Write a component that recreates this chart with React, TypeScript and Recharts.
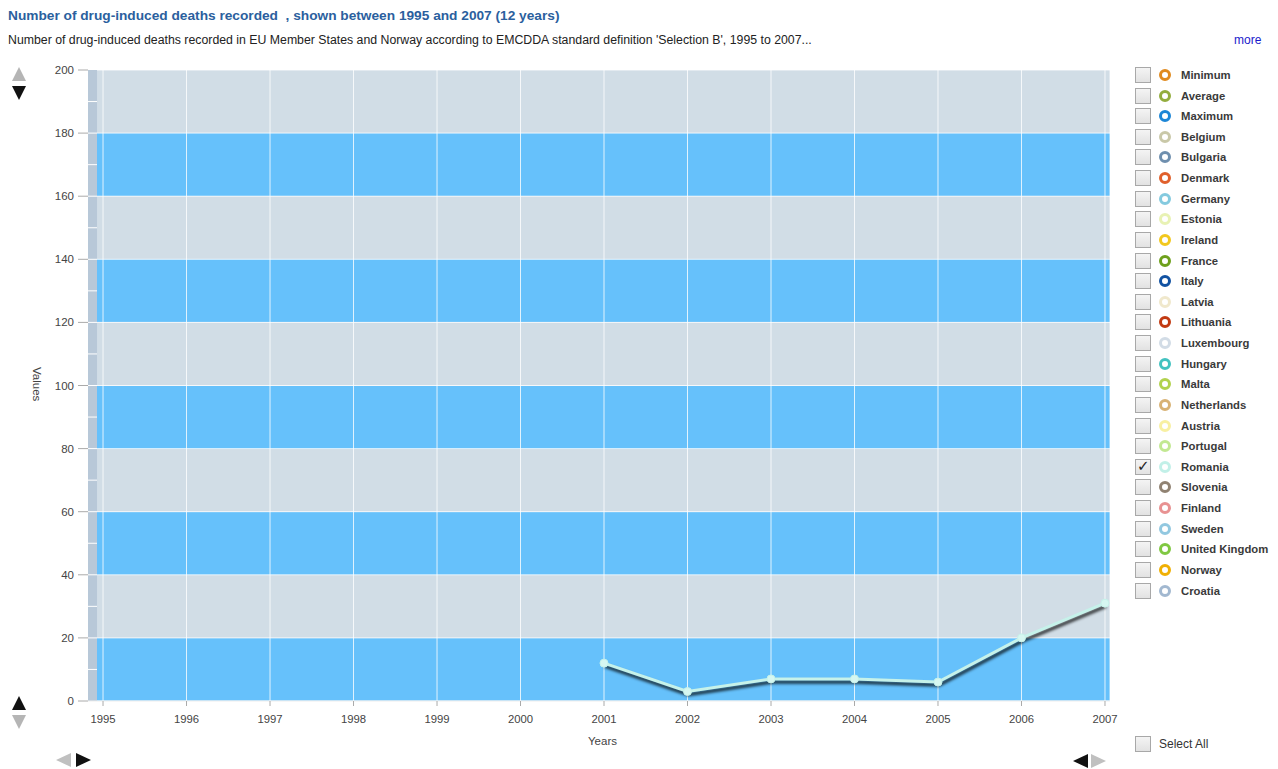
import React from 'react';
import {
  LineChart,
  Line,
  XAxis,
  YAxis,
  CartesianGrid,
  ReferenceArea,
  ReferenceLine,
} from 'recharts';

// chart values
const years = [1995, 1996, 1997, 1998, 1999, 2000, 2001, 2002, 2003, 2004, 2005, 2006, 2007];
const romania: (number | null)[] = [null, null, null, null, null, null, 12, 3, 7, 7, 6, 20, 31];
const yTicks = [0, 20, 40, 60, 80, 100, 120, 140, 160, 180, 200];
const minorTicks = [10, 20, 30, 40, 50, 60, 70, 80, 90, 100, 110, 120, 130, 140, 150, 160, 170, 180, 190];

const legendNames = [
  'Minimum', 'Average', 'Maximum', 'Belgium', 'Bulgaria', 'Denmark', 'Germany', 'Estonia', 'Ireland',
  'France', 'Italy', 'Latvia', 'Lithuania', 'Luxembourg', 'Hungary', 'Malta', 'Netherlands', 'Austria',
  'Portugal', 'Romania', 'Slovenia', 'Finland', 'Sweden', 'United Kingdom', 'Norway', 'Croatia',
];
const legendColors = [
  '#e08a1e', '#93ad3e', '#1c86d6', '#c9c8a8', '#6f8fae', '#e0602c', '#84cadf', '#e8f2b4', '#f2c81e',
  '#6ea01c', '#1252a2', '#f0e8cc', '#c23a12', '#d2dce6', '#42c2c0', '#b2d24e', '#d8b274', '#f8f0a2',
  '#c2e892', '#c2f0e8', '#908272', '#e89292', '#92c8e0', '#80c842', '#f0b004', '#a2b8d0',
];
const checked = ['Romania'];

const X_MIN = 1994.82;
const X_MAX = 2007.06;
const STRIP_END = 1994.928;

const data = years.map((y, i) => ({ year: y, romania: romania[i] }));

const FONT = '"Liberation Sans", Arial, sans-serif';

function Tri({ dir, color, left, top }: { dir: 'up' | 'down' | 'left' | 'right'; color: string; left: number; top: number }) {
  const s: React.CSSProperties = { position: 'absolute', left, top, width: 0, height: 0 };
  if (dir === 'up') Object.assign(s, { borderLeft: '7px solid transparent', borderRight: '7px solid transparent', borderBottom: `14px solid ${color}` });
  if (dir === 'down') Object.assign(s, { borderLeft: '7px solid transparent', borderRight: '7px solid transparent', borderTop: `14px solid ${color}` });
  if (dir === 'left') Object.assign(s, { borderTop: '7px solid transparent', borderBottom: '7px solid transparent', borderRight: `15px solid ${color}` });
  if (dir === 'right') Object.assign(s, { borderTop: '7px solid transparent', borderBottom: '7px solid transparent', borderLeft: `15px solid ${color}` });
  return <div style={s} />;
}

function Box({ on }: { on: boolean }) {
  return (
    <div
      style={{
        width: 14,
        height: 14,
        border: '1px solid #a8a8a8',
        background: 'linear-gradient(#f4f4f4, #e2e2e2)',
        position: 'relative',
        boxSizing: 'content-box',
      }}
    >
      {on && (
        <span style={{ position: 'absolute', left: 1, top: -3, fontSize: 15, color: '#222', fontFamily: '"DejaVu Sans", sans-serif' }}>
          ✓
        </span>
      )}
    </div>
  );
}

export default function App() {
  return (
    <div style={{ position: 'fixed', left: 0, top: 0, width: 1278, height: 769, background: '#fff', fontFamily: FONT, overflow: 'hidden' }}>
      <style>{`.romania-line .recharts-line-curve { filter: drop-shadow(1px 3px 1.5px rgba(0,0,0,0.85)); }
.romania-line .recharts-line-dots { filter: drop-shadow(1px 2px 1px rgba(0,0,0,0.6)); }`}</style>

      <div style={{ position: 'absolute', left: 8, top: 8, fontSize: 13.7, fontWeight: 'bold', color: '#2b5f9e', whiteSpace: 'nowrap' }}>
        Number of drug-induced deaths recorded&nbsp; , shown between 1995 and 2007 (12 years)
      </div>
      <div style={{ position: 'absolute', left: 8, top: 33, fontSize: 12.3, color: '#222', whiteSpace: 'nowrap' }}>
        Number of drug-induced deaths recorded in EU Member States and Norway according to EMCDDA standard definition 'Selection B', 1995 to 2007...
      </div>
      <div style={{ position: 'absolute', left: 1234, top: 33, fontSize: 12, color: '#1a1acc' }}>more</div>

      <div style={{ position: 'absolute', left: 0, top: 0 }}>
        <LineChart width={1278} height={769} data={data} margin={{ top: 70, right: 168, bottom: 38, left: 28 }}>
          <CartesianGrid
            stroke="#ffffff"
            strokeOpacity={0.8}
            horizontalFill={['#d1dde6', '#66c1fb']}
            fillOpacity={1}
          />
          <XAxis
            dataKey="year"
            type="number"
            domain={[X_MIN, X_MAX]}
            ticks={years}
            allowDataOverflow
            height={30}
            tickSize={5}
            tickMargin={9}
            tickLine={{ stroke: '#aaaaaa' }}
            axisLine={{ stroke: '#eeeeee' }}
            tick={{ fontSize: 11.3, fill: '#444', fontFamily: FONT }}
          />
          <YAxis
            type="number"
            domain={[0, 200]}
            ticks={yTicks}
            width={60}
            tickSize={10}
            tickMargin={4}
            tickLine={{ stroke: '#aaaaaa' }}
            axisLine={false}
            tick={{ fontSize: 11.5, fill: '#444', fontFamily: FONT }}
          />
          <ReferenceArea x1={X_MIN} x2={STRIP_END} y1={0} y2={200} fill="#b8c8d8" fillOpacity={1} stroke="none" />
          {minorTicks.map((t) => (
            <ReferenceLine
              key={t}
              segment={[{ x: X_MIN, y: t }, { x: STRIP_END, y: t }]}
              stroke="#ffffff"
              strokeWidth={1}
            />
          ))}
          <Line
            className="romania-line"
            dataKey="romania"
            stroke="#c6f2ea"
            strokeWidth={3}
            dot={{ r: 4, fill: '#d6f7f1', stroke: '#c6f2ea', strokeWidth: 1 }}
            isAnimationActive={false}
          />
        </LineChart>
      </div>

      <div
        style={{
          position: 'absolute',
          left: 31,
          top: 367,
          fontSize: 11.5,
          color: '#444',
          writingMode: 'vertical-rl',
        }}
      >
        Values
      </div>
      <div style={{ position: 'absolute', left: 588, top: 735, fontSize: 11.5, color: '#444' }}>Years</div>

      <Tri dir="up" color="#b5b5b5" left={12} top={67} />
      <Tri dir="down" color="#111" left={12} top={86} />
      <Tri dir="up" color="#111" left={12} top={696} />
      <Tri dir="down" color="#b5b5b5" left={12} top={715} />
      <Tri dir="left" color="#c0c0c0" left={56} top={753} />
      <Tri dir="right" color="#111" left={76} top={753} />
      <Tri dir="left" color="#111" left={1073} top={754} />
      <Tri dir="right" color="#c0c0c0" left={1091} top={754} />

      {legendNames.map((name, i) => (
        <div
          key={name}
          style={{ position: 'absolute', left: 1135, top: 67 + i * 20.62, height: 16, display: 'flex', alignItems: 'center' }}
        >
          <Box on={checked.includes(name)} />
          <div
            style={{
              width: 6,
              height: 6,
              borderRadius: '50%',
              border: `3px solid ${legendColors[i]}`,
              marginLeft: 8,
              boxSizing: 'content-box',
            }}
          />
          <span style={{ marginLeft: 10, fontSize: 11.3, fontWeight: 'bold', color: '#3a3a3a', whiteSpace: 'nowrap' }}>{name}</span>
        </div>
      ))}

      <div style={{ position: 'absolute', left: 1135, top: 736, display: 'flex', alignItems: 'center' }}>
        <Box on={false} />
        <span style={{ marginLeft: 8, fontSize: 12, color: '#333' }}>Select All</span>
      </div>
    </div>
  );
}
